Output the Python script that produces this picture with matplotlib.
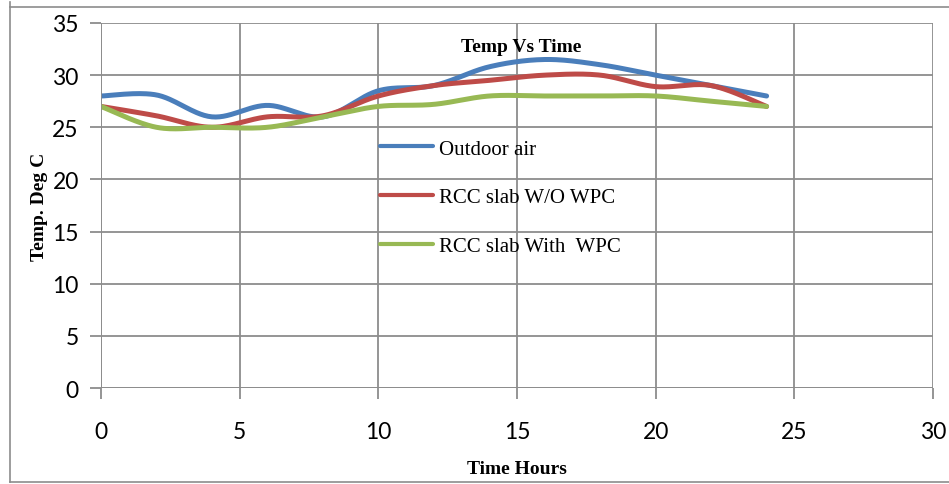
import numpy as np
import matplotlib.pyplot as plt
from matplotlib.lines import Line2D

hours = [0, 2, 4, 6, 8, 10, 12, 14, 16, 18, 20, 22, 24]
outdoor = [28, 28.1, 26, 27.1, 26, 28.5, 29, 30.8, 31.5, 31, 30, 29, 28]
rcc_no_wpc = [27, 26.1, 25, 26, 26.1, 28, 29, 29.5, 30, 30, 28.9, 29, 27]
rcc_wpc = [27, 25, 25, 25, 26, 27, 27.2, 28, 28, 28, 28, 27.5, 27]
series_names = ["Outdoor air", "RCC slab W/O WPC", "RCC slab With  WPC"]
colors = ["#4A7EBB", "#BE4B48", "#98B954"]


def smooth(x, y, n=30):
    # Excel-style smoothed line: cardinal spline through the points
    x = np.asarray(x, float)
    y = np.asarray(y, float)
    px = np.concatenate([[x[0]], x, [x[-1]]])
    py = np.concatenate([[y[0]], y, [y[-1]]])
    xs, ys = [], []
    t = np.linspace(0, 1, n)
    for i in range(1, len(px) - 2):
        p0, p1, p2, p3 = (np.array([px[j], py[j]]) for j in (i - 1, i, i + 1, i + 2))
        c1 = p1 + (p2 - p0) / 6
        c2 = p2 - (p3 - p1) / 6
        b = ((1 - t) ** 3)[:, None] * p1 + (3 * (1 - t) ** 2 * t)[:, None] * c1 \
            + (3 * (1 - t) * t ** 2)[:, None] * c2 + (t ** 3)[:, None] * p2
        xs.append(b[:, 0])
        ys.append(b[:, 1])
    return np.concatenate(xs), np.concatenate(ys)


fig = plt.figure(figsize=(9.49, 4.85), dpi=100)
ax = fig.add_axes([101 / 949, 1 - 389 / 485, (933 - 101) / 949, (389 - 24) / 485])

for ys, c, name in zip([outdoor, rcc_no_wpc, rcc_wpc], colors, series_names):
    sx, sy = smooth(hours, ys)
    ax.plot(sx, sy, color=c, lw=3.6, solid_capstyle="round", label=name)

ax.set_xlim(0, 30)
ax.set_ylim(0, 35)
ax.set_xticks(range(0, 31, 5))
ax.set_yticks(range(0, 36, 5))
ax.grid(True, color="#8c8c8c", lw=1.3)
ax.set_axisbelow(True)
for s in ax.spines.values():
    s.set_visible(False)
ax.tick_params(direction="out", length=8, width=1.3, color="#8c8c8c",
               labelsize=16.5, pad=16)
ax.tick_params(axis="y", pad=8)
for lab in ax.get_xticklabels() + ax.get_yticklabels():
    lab.set_fontfamily("Lato")
ax.axhline(0, color="#8c8c8c", lw=1.3)
ax.axvline(0, color="#8c8c8c", lw=1.3)

ax.text(15.15, 32.7, "Temp Vs Time", ha="center", va="center",
        fontfamily="Liberation Serif", fontweight="bold", fontsize=14)
fig.text(517 / 949, 1 - 470 / 485, "Time Hours", ha="center", va="center",
         fontfamily="Liberation Serif", fontweight="bold", fontsize=14)
fig.text(40 / 949, 1 - 207 / 485, "Temp. Deg C", ha="center", va="center",
         rotation=90, fontfamily="Liberation Serif", fontweight="bold", fontsize=14)

leg = ax.legend(loc="upper left", bbox_to_anchor=(0.325, 0.705), frameon=False,
                prop={"family": "Liberation Serif", "size": 15},
                handlelength=2.55, handletextpad=0.3, labelspacing=1.4,
                borderaxespad=0)
for h in leg.get_lines():
    h.set_linewidth(3)

# outer chart frame
for seg in [([9.5, 9.5], [3, 483]), ([9.5, 949], [483, 483]), ([9.5, 949], [8, 8])]:
    fig.add_artist(Line2D(np.array(seg[0]) / 949, 1 - np.array(seg[1]) / 485,
                          color="#8c8c8c", lw=1.2))

fig.savefig("out.png", dpi=100)
